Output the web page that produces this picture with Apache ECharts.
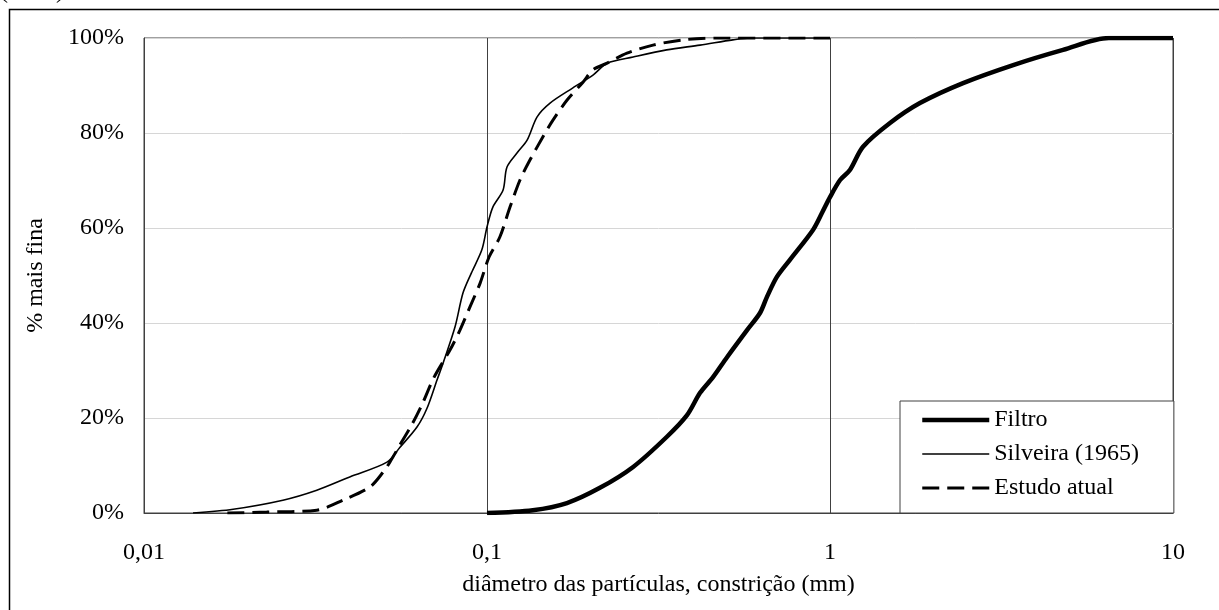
<!DOCTYPE html>
<html>
<head>
<meta charset="utf-8">
<script src="https://cdn.jsdelivr.net/npm/echarts@6/dist/echarts.min.js"></script>
<style>
html,body{margin:0;padding:0;background:#fff;}
#chart{width:1219px;height:610px;}
</style>
</head>
<body>
<div id="chart"></div>
<script>
// ---- data ----
const seriesNames = ['Filtro', 'Silveira (1965)', 'Estudo atual'];
const xTickLabels = ['0,01', '0,1', '1', '10'];

const filtroD = [0.1, 0.136, 0.171, 0.2134, 0.2667, 0.334, 0.383, 0.418, 0.456, 0.501, 0.573, 0.625, 0.655, 0.70, 0.764, 0.892, 0.948, 1.0, 1.07, 1.143, 1.248, 1.496, 1.829, 2.443, 3.42, 4.78, 6.5, 10];
const filtroP = [0, 0.6, 2.1, 5.3, 9.7, 16, 20.6, 25.3, 28.6, 32.8, 38.5, 42.1, 45.5, 49.7, 53.3, 59.6, 63.2, 66.5, 70.1, 72.2, 77.1, 82.1, 86.3, 90.5, 94.3, 97.5, 100, 100];

const silveiraD = [0.0139, 0.0182, 0.0254, 0.0319, 0.0398, 0.0511, 0.0557, 0.0625, 0.0668, 0.0715, 0.0745, 0.0807, 0.0851, 0.0900, 0.0966, 0.1, 0.104, 0.1114, 0.1143, 0.1223, 0.1309, 0.140, 0.1527, 0.178, 0.2037, 0.224, 0.2667, 0.334, 0.418, 0.521, 0.585, 1.0];
const silveiraP = [0, 0.8, 2.7, 4.8, 7.6, 10.7, 13.8, 18.1, 22, 28, 31.6, 39.2, 46.3, 50.5, 55.4, 60.2, 64.4, 68, 72.8, 75.8, 78.5, 83.4, 86.3, 89.5, 92.2, 94.7, 96, 97.5, 98.5, 99.6, 100, 100];

const estudoD = [0.0175, 0.0228, 0.0319, 0.038, 0.0456, 0.0498, 0.0521, 0.0557, 0.0608, 0.065, 0.0700, 0.078, 0.0834, 0.0892, 0.0955, 0.1014, 0.109, 0.1167, 0.1248, 0.1334, 0.1456, 0.1557, 0.171, 0.1905, 0.2037, 0.224, 0.2559, 0.3048, 0.3727, 0.469, 1.0];
const estudoP = [0, 0.2, 0.6, 2.7, 5.5, 8.6, 10.7, 14.3, 19, 23.2, 28.5, 34.3, 38.5, 43.4, 48.4, 53.9, 58.1, 64.4, 70.1, 74.3, 79.2, 82.7, 86.9, 90.7, 93.3, 94.7, 96.8, 98.5, 99.6, 100, 100];

// ---- chart ----
const FONT = '"Liberation Serif", "Times New Roman", serif';
const pairs = (xs, ys) => xs.map((x, i) => [x, ys[i]]);
const tickMap = {0.01: xTickLabels[0], 0.1: xTickLabels[1], 1: xTickLabels[2], 10: xTickLabels[3]};
const lineWidths = [4.5, 1.6, 3];
const dashPattern = [17, 8];

const chart = echarts.init(document.getElementById('chart'), null, {renderer: 'canvas'});
chart.setOption({
  backgroundColor: '#fff',
  animation: false,
  textStyle: {fontFamily: FONT, color: '#000'},
  grid: {left: 144, top: 38, right: 46, bottom: 97, show: true, borderColor: '#404040', borderWidth: 1, backgroundColor: 'transparent'},
  xAxis: {
    type: 'log', logBase: 10, min: 0.01, max: 10,
    name: 'diâmetro das partículas, constrição (mm)',
    nameLocation: 'middle', nameGap: 60,
    nameTextStyle: {fontFamily: FONT, fontSize: 24, color: '#000'},
    axisLine: {show: true, lineStyle: {color: '#404040', width: 1}},
    axisTick: {show: false},
    minorTick: {show: false},
    axisLabel: {
      margin: 28, fontFamily: FONT, fontSize: 24, color: '#000',
      formatter: v => {
        for (const k in tickMap) { if (Math.abs(Math.log10(v) - Math.log10(+k)) < 1e-6) return tickMap[k]; }
        return '';
      }
    },
    splitLine: {show: true, lineStyle: {color: '#404040', width: 1}}
  },
  yAxis: {
    type: 'value', min: 0, max: 100, interval: 20,
    name: '% mais fina',
    nameLocation: 'middle', nameGap: 96,
    nameTextStyle: {fontFamily: FONT, fontSize: 24, color: '#000'},
    axisLine: {show: true, lineStyle: {color: '#404040', width: 1}},
    axisTick: {show: false},
    axisLabel: {margin: 20, fontFamily: FONT, fontSize: 24, color: '#000', formatter: '{value}%'},
    splitLine: {show: true, lineStyle: {color: '#d6d6d6', width: 1}}
  },
  legend: {
    orient: 'vertical',
    left: 900, top: 401,
    padding: [7, 35, 13, 20],
    itemGap: 10,
    itemWidth: 67, itemHeight: 20,
    borderColor: '#404040', borderWidth: 1,
    backgroundColor: '#fff',
    itemStyle: {opacity: 0},
    lineStyle: {width: 'inherit', color: '#000'},
    textStyle: {fontFamily: FONT, fontSize: 24, color: '#000', lineHeight: 24},
    data: [
      {name: seriesNames[0], lineStyle: {width: lineWidths[0], color: '#000', type: 'solid'}, itemStyle: {opacity: 0}},
      {name: seriesNames[1], lineStyle: {width: lineWidths[1], color: '#000', type: 'solid'}, itemStyle: {opacity: 0}},
      {name: seriesNames[2], lineStyle: {width: lineWidths[2], color: '#000', type: dashPattern}, itemStyle: {opacity: 0}}
    ]
  },
  graphic: [
    {type: 'rect', left: 7, top: 7, shape: {x: 0, y: 0, width: 1211, height: 700}, style: {fill: 'none', stroke: '#000', lineWidth: 1.5}, silent: true},
    {type: 'text', left: 0, top: -20, style: {text: '(2013)', font: '24px ' + FONT, fill: '#000'}, silent: true}
  ],
  series: [
    {name: seriesNames[0], type: 'line', data: pairs(filtroD, filtroP), smooth: 0.3, symbol: 'none', showSymbol: false,
     lineStyle: {color: '#000', width: lineWidths[0]}, itemStyle: {color: '#000'}, z: 3},
    {name: seriesNames[1], type: 'line', data: pairs(silveiraD, silveiraP), smooth: 0.3, symbol: 'none', showSymbol: false,
     lineStyle: {color: '#000', width: lineWidths[1]}, itemStyle: {color: '#000'}, z: 3},
    {name: seriesNames[2], type: 'line', data: pairs(estudoD, estudoP), smooth: 0.3, symbol: 'none', showSymbol: false,
     lineStyle: {color: '#000', width: lineWidths[2], type: dashPattern}, itemStyle: {color: '#000'}, z: 3}
  ]
});
</script>
</body>
</html>
